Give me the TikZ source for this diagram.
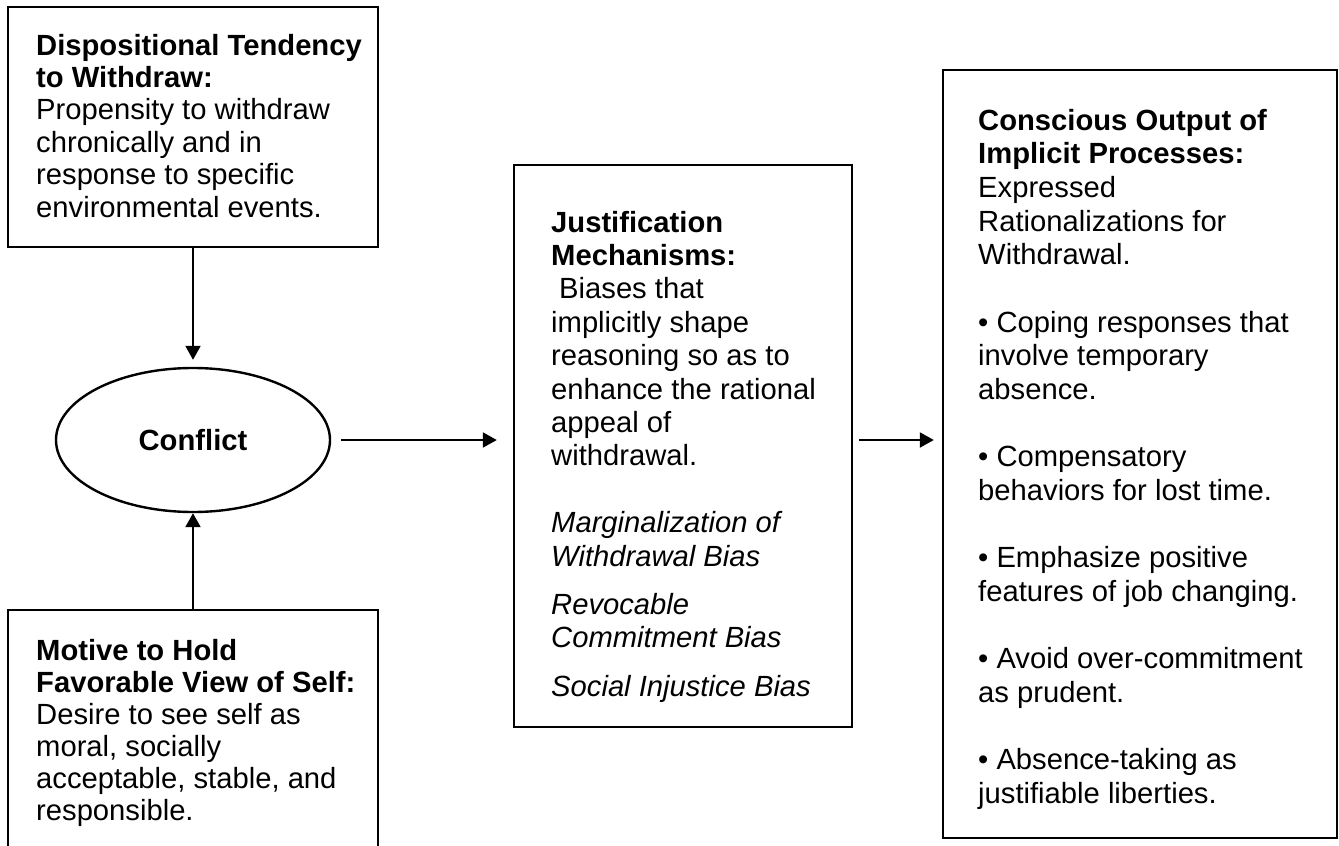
\documentclass[tikz,border=0pt]{standalone}
\usepackage{fontspec}
\setmainfont{Liberation Sans}
\usetikzlibrary{arrows.meta,shapes.geometric}
\begin{document}
\begin{tikzpicture}[x=1pt,y=-1pt,
  box/.style={draw, line width=2.4pt, inner sep=0pt, rectangle},
  txt/.style={anchor=north west, inner sep=0pt, align=left,
    font={\fontsize{29.2}{#1}\selectfont}},
  txt/.default=33.4,
  oval/.style={draw, ellipse, line width=2.4pt, inner sep=0pt,
    minimum width=274pt, minimum height=144pt,
    font={\fontsize{29.2}{33.4}\selectfont\bfseries}},
  arr/.style={line width=2pt, -{Triangle[length=14pt,width=15pt]}}
]
\useasboundingbox (0,0) rectangle (1339,846);
\clip (0,0) rectangle (1339,846);
\fill[white] (0,0) rectangle (1339,846);

% boxes
\node[box, minimum width=370pt, minimum height=240pt] (disp) at (193,127) {};
\node[box, minimum width=370pt, minimum height=270pt] (motive) at (193,745) {};
\node[box, minimum width=338pt, minimum height=562pt] (just) at (683,446) {};
\node[box, minimum width=394pt, minimum height=768pt] (out) at (1140,454) {};
\node[oval] (conf) at (193,440) {Conflict};

% texts
\node[txt=32.4] (dispT) at (36,32.3) {\strut\textbf{Dispositional Tendency}\\
\textbf{to Withdraw:}\\
Propensity to withdraw\\
chronically and in\\
response to specific\\
environmental events.};

\node[txt=32] (motiveT) at (36,637.6) {\strut\textbf{Motive to Hold}\\
\textbf{Favorable View of Self:}\\
Desire to see self as\\
moral, socially\\
acceptable, stable, and\\
responsible.};

\node[txt=33.4] (justT) at (551,208.6) {\strut\textbf{Justification}\\
\textbf{Mechanisms:}\\
\hspace*{8pt}Biases that\\
implicitly shape\\
reasoning so as to\\
enhance the rational\\
appeal of\\
withdrawal.\\[33.4pt]
\textit{Marginalization of}\\
\textit{Withdrawal Bias}\\[15pt]
\textit{Revocable}\\
\textit{Commitment Bias}\\[15pt]
\textit{Social Injustice Bias}};

\node[txt=33.65] (outT) at (978,106.45) {\strut\textbf{Conscious Output of}\\
\textbf{Implicit Processes:}\\
Expressed\\
Rationalizations for\\
Withdrawal.\\[33.65pt]
• Coping responses that\\
involve temporary\\
absence.\\[33.65pt]
• Compensatory\\
behaviors for lost time.\\[33.65pt]
• Emphasize positive\\
features of job changing.\\[33.65pt]
• Avoid over-commitment\\
as prudent.\\[33.65pt]
• Absence-taking as\\
justifiable liberties.};

% connectors
\draw[arr, shorten >=7pt] (disp.south) -- (conf.north);
\draw[arr] (motive.north) -- (conf.south);
\draw[arr, shorten <=10pt, shorten >=16pt] (conf.east) -- (conf.east -| just.west);
\draw[arr, shorten <=6pt, shorten >=8pt] (conf.east -| just.east) -- (conf.east -| out.west);
\end{tikzpicture}
\end{document}
